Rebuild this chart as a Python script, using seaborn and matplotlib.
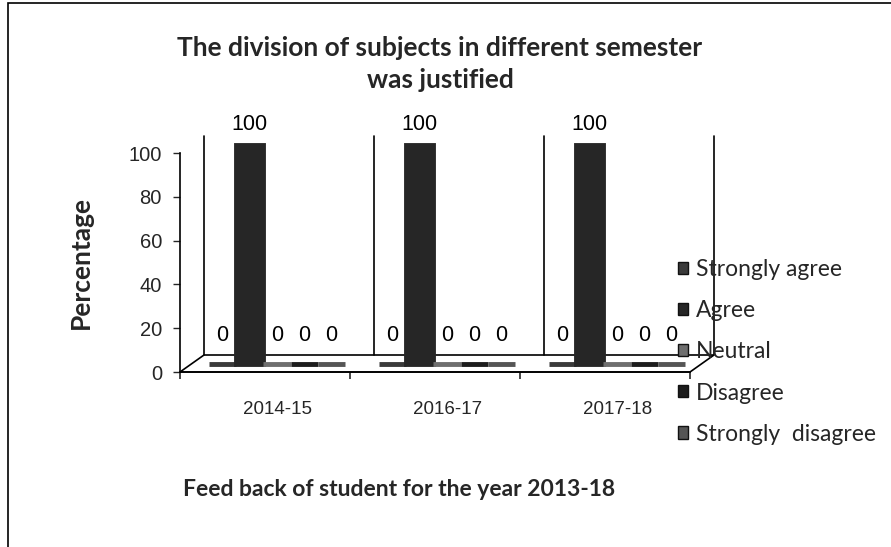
import pandas as pd
import matplotlib.pyplot as plt
import matplotlib.transforms as mtransforms
from matplotlib.patches import Polygon, Rectangle
import seaborn as sns

# data
years = ['2014-15', '2016-17', '2017-18']
responses = ['Strongly agree', 'Agree', 'Neutral', 'Disagree', 'Strongly  disagree']
strongly_agree = [0, 0, 0]
agree = [100, 100, 100]
neutral = [0, 0, 0]
disagree = [0, 0, 0]
strongly_disagree = [0, 0, 0]

colors = ['#3a3a3a', '#262626', '#6e6e6e', '#1c1c1c', '#555555']

rows = []
for resp, vals in zip(responses, [strongly_agree, agree, neutral, disagree, strongly_disagree]):
    for yr, v in zip(years, vals):
        rows.append({'year': yr, 'response': resp, 'value': v})
df = pd.DataFrame(rows)

sns.set_theme(style="white")
num_font = ['Liberation Sans', 'DejaVu Sans']
txt_font = ['Lato', 'DejaVu Sans']
plt.rcParams['font.family'] = num_font

fig = plt.figure(figsize=(8.91, 5.47), dpi=100)
ax = fig.add_axes([180 / 891, 1 - 372 / 547, 510 / 891, 219 / 547])

sns.barplot(data=df, x='year', y='value', hue='response', hue_order=responses,
            palette=colors, width=0.8, ax=ax, legend=False)

ax.set_ylim(0, 100)
ax.set_xlim(-0.5, 2.5)

# pseudo 3D offsets (in inches)
back = ax.transData + mtransforms.ScaledTranslation(0.24, 0.17, fig.dpi_scale_trans)
mid = ax.transData + mtransforms.ScaledTranslation(0.12, 0.08, fig.dpi_scale_trans)

# floor (axes coords)
dx, dy = 24 / 510, 17 / 219
floor = Polygon([(0, 0), (1, 0), (1 + dx, dy), (dx, dy)], closed=True,
                transform=ax.transAxes, facecolor='white', edgecolor='black',
                lw=1.2, zorder=1, clip_on=False)
ax.add_patch(floor)

# back walls
for b in [-0.5, 0.5, 1.5, 2.5]:
    ax.plot([b, b], [0, 100], color='black', lw=1.2, transform=back,
            clip_on=False, zorder=1)

# bars and value labels
for patch in ax.patches:
    if patch is floor:
        continue
    patch.set_transform(mid)
    patch.set_clip_on(False)
    patch.set_edgecolor(patch.get_facecolor())
    patch.set_linewidth(3.5)
    patch.set_zorder(3)
    h = patch.get_height()
    cx = patch.get_x() + patch.get_width() / 2
    lab_tr = mid + mtransforms.ScaledTranslation(0, 0.1 if h > 0 else 0.18, fig.dpi_scale_trans)
    ax.text(cx, h, f'{h:.0f}', transform=lab_tr, ha='center', va='bottom',
            fontsize=15.5, color='black', zorder=4, clip_on=False)

ax.set_yticks([0, 20, 40, 60, 80, 100])
ax.tick_params(axis='y', labelsize=14.5, length=5, direction='out', left=True, width=1, pad=8)
ax.tick_params(axis='x', labelsize=13.5, length=0, pad=21)
ax.set_xticks(range(len(years)))
ax.set_xticklabels(years)
for lab in ax.get_xticklabels():
    lab.set_transform(lab.get_transform() + mtransforms.ScaledTranslation(0.13, 0, fig.dpi_scale_trans))
ax.set_xticks([-0.5, 0.5, 1.5, 2.5], minor=True)
ax.tick_params(axis='x', which='minor', length=5, bottom=True, width=1.2)

for side in ['top', 'right']:
    ax.spines[side].set_visible(False)
ax.spines['left'].set_color('black')
ax.spines['left'].set_linewidth(1.2)
ax.spines['bottom'].set_color('black')
ax.spines['bottom'].set_linewidth(1.2)
ax.patch.set_alpha(0)

ax.set_ylabel('Percentage', fontsize=19, fontweight='bold', family=txt_font)
ax.yaxis.set_label_coords(-0.17, 0.5)
ax.set_xlabel('Feed back of student for the year 2013-18', fontsize=16.5,
              fontweight='bold', family=txt_font)
ax.xaxis.set_label_coords(0.43, -0.49)

fig.text(440 / 891, 1 - 64 / 547, 'The division of subjects in different semester\nwas justified',
         ha='center', va='center', fontsize=19, fontweight='bold',
         family=txt_font, linespacing=1.45)

handles = [Rectangle((0, 0), 1, 1, facecolor=c, edgecolor='#111111') for c in colors]
fig.legend(handles, responses, loc='upper left', bbox_to_anchor=(678 / 891, 1 - 259 / 547),
           frameon=False, labelspacing=0.88, handlelength=0.45,
           handleheight=0.45, handletextpad=0.35, borderaxespad=0, borderpad=0,
           prop={'family': txt_font, 'size': 16.5})

# outer chart frame
fig.patches.append(Rectangle((8 / 891, -0.02), 1.0, 1.02 - 3 / 547, transform=fig.transFigure,
                             fill=False, edgecolor='black', lw=1.2))

plt.savefig('out.png', dpi=100)
